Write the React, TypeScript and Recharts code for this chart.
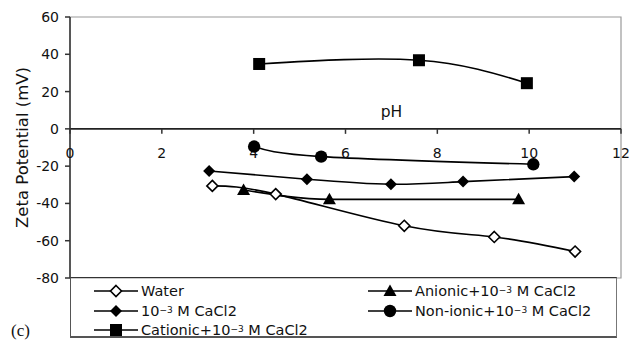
import React from "react";
import {
  LineChart,
  Line,
  XAxis,
  YAxis,
  ReferenceLine,
  ReferenceDot,
  ReferenceArea,
} from "recharts";

// ---- data ----
const waterX = [3.1, 4.48, 7.28, 9.24, 11.0];
const waterY = [-30.6, -35, -52, -58, -65.8];

const anionicX = [3.78, 5.65, 9.77];
const anionicY = [-32.8, -37.8, -37.8];

const cacl2X = [3.03, 5.16, 6.99, 8.56, 10.98];
const cacl2Y = [-22.6, -27, -29.7, -28.3, -25.6];

const nonionicX = [4.01, 5.47, 10.09];
const nonionicY = [-9.5, -14.9, -19];

const cationicX = [4.12, 7.6, 9.95];
const cationicY = [34.8, 36.8, 24.5];

const xTicks = [0, 2, 4, 6, 8, 10, 12];
const yTicks = [-80, -60, -40, -20, 0, 20, 40, 60];

const seriesNames = {
  water: "Water",
  anionic: "Anionic+10",
  cacl2: "10",
  nonionic: "Non-ionic+10",
  cationic: "Cationic+10",
};

const toRows = (xs: number[], ys: number[]) =>
  xs.map((x, i) => ({ x, y: ys[i] }));

const FONT = "'DejaVu Sans', 'Liberation Sans', Arial, sans-serif";

type MK = "openDiamond" | "diamond" | "square" | "circle" | "triangle";

const Marker = ({ cx, cy, kind }: { cx: number; cy: number; kind: MK }) => {
  if (cx == null || cy == null) return null;
  switch (kind) {
    case "openDiamond":
      return (
        <polygon
          points={`${cx},${cy - 5.5} ${cx + 5.5},${cy} ${cx},${cy + 5.5} ${cx - 5.5},${cy}`}
          fill="#fff"
          stroke="#000"
          strokeWidth={1.6}
        />
      );
    case "diamond":
      return (
        <polygon
          points={`${cx},${cy - 6} ${cx + 6},${cy} ${cx},${cy + 6} ${cx - 6},${cy}`}
          fill="#000"
        />
      );
    case "square":
      return <rect x={cx - 6} y={cy - 6} width={12} height={12} fill="#000" />;
    case "circle":
      return <circle cx={cx} cy={cy} r={6.2} fill="#000" />;
    case "triangle":
      return (
        <polygon
          points={`${cx},${cy - 6.5} ${cx + 6.5},${cy + 5} ${cx - 6.5},${cy + 5}`}
          fill="#000"
        />
      );
  }
  return null;
};

const dotFor = (kind: MK) => (props: any) =>
  (
    <Marker
      key={`${kind}-${props.index}`}
      cx={props.cx}
      cy={props.cy}
      kind={kind}
    />
  );

const LegendMarker = ({ kind }: { kind: MK }) => (
  <svg width={46} height={16} style={{ display: "block" }}>
    <line x1={1} y1={8} x2={45} y2={8} stroke="#000" strokeWidth={1.6} />
    <Marker cx={23} cy={8} kind={kind} />
  </svg>
);

const Sup = () => (
  <sup style={{ fontSize: 9, verticalAlign: "top", position: "relative", top: -1 }}>
    −3
  </sup>
);

const legendItems: { kind: MK; label: React.ReactNode; left: number; top: number }[] = [
  { kind: "openDiamond", label: <>{seriesNames.water}</>, left: 22, top: 2.7 },
  {
    kind: "diamond",
    label: (
      <>
        {seriesNames.cacl2}
        <Sup /> M CaCl2
      </>
    ),
    left: 22,
    top: 23,
  },
  {
    kind: "square",
    label: (
      <>
        {seriesNames.cationic}
        <Sup /> M CaCl2
      </>
    ),
    left: 22,
    top: 42,
  },
  {
    kind: "triangle",
    label: (
      <>
        {seriesNames.anionic}
        <Sup /> M CaCl2
      </>
    ),
    left: 296,
    top: 2.7,
  },
  {
    kind: "circle",
    label: (
      <>
        {seriesNames.nonionic}
        <Sup /> M CaCl2
      </>
    ),
    left: 296,
    top: 22.7,
  },
];

export default function App() {
  return (
    <div
      style={{
        position: "absolute",
        left: 0,
        top: 0,
        width: 637,
        height: 342,
        overflow: "hidden",
        background: "#fff",
        fontFamily: FONT,
      }}
    >
      <LineChart
        width={637}
        height={342}
        margin={{ top: 17, right: 16, bottom: 64, left: 10 }}
      >
        <XAxis
          type="number"
          dataKey="x"
          domain={[0, 12]}
          ticks={xTicks}
          hide
          allowDataOverflow
        />
        <YAxis
          type="number"
          domain={[-80, 60]}
          ticks={yTicks}
          width={60}
          interval={0}
          tickSize={5}
          tickMargin={6}
          axisLine={{ stroke: "#333", strokeWidth: 1.5 }}
          tickLine={{ stroke: "#333", strokeWidth: 1.5 }}
          tick={{ fill: "#111", fontSize: 14, fontFamily: FONT }}
          label={{
            content: (p: any) => {
              const vb = p.viewBox || { x: 10, y: 17, width: 60, height: 261 };
              const x = vb.x + 17.5;
              const y = vb.y + vb.height / 2;
              return (
                <text
                  x={x}
                  y={y}
                  transform={`rotate(-90 ${x} ${y})`}
                  textAnchor="middle"
                  fontSize={16.5}
                  fontFamily={FONT}
                  fill="#111"
                >
                  Zeta Potential (mV)
                </text>
              );
            },
          }}
        />
        <ReferenceArea
          x1={0}
          x2={12}
          y1={-80}
          y2={60}
          fill="none"
          stroke="#9a9a9a"
          strokeWidth={1.2}
          fillOpacity={0}
        />
        <ReferenceLine y={0} stroke="#222" strokeWidth={1.6} />
        {xTicks.map((t) => (
          <ReferenceDot
            key={`xt-${t}`}
            x={t}
            y={0}
            r={1}
            shape={(p: any) => (
              <g>
                <line
                  x1={p.cx}
                  y1={p.cy}
                  x2={p.cx}
                  y2={p.cy + 5}
                  stroke="#333"
                  strokeWidth={1.5}
                />
                <text
                  x={p.cx}
                  y={p.cy + 29}
                  textAnchor="middle"
                  fontSize={14}
                  fontFamily={FONT}
                  fill="#111"
                >
                  {t}
                </text>
              </g>
            )}
          />
        ))}
        <ReferenceDot
          x={7.0}
          y={0}
          r={1}
          shape={(p: any) => (
            <text
              x={p.cx}
              y={p.cy - 12}
              textAnchor="middle"
              fontSize={15.5}
              fontFamily={FONT}
              fill="#111"
            >
              pH
            </text>
          )}
        />
        <Line
          data={toRows(waterX, waterY)}
          dataKey="y"
          type="natural"
          stroke="#000"
          strokeWidth={1.6}
          dot={dotFor("openDiamond")}
          activeDot={false}
          isAnimationActive={false}
        />
        <Line
          data={toRows(anionicX, anionicY)}
          dataKey="y"
          type="monotone"
          stroke="#000"
          strokeWidth={1.6}
          dot={dotFor("triangle")}
          activeDot={false}
          isAnimationActive={false}
        />
        <Line
          data={toRows(cacl2X, cacl2Y)}
          dataKey="y"
          type="natural"
          stroke="#000"
          strokeWidth={1.6}
          dot={dotFor("diamond")}
          activeDot={false}
          isAnimationActive={false}
        />
        <Line
          data={toRows(nonionicX, nonionicY)}
          dataKey="y"
          type="natural"
          stroke="#000"
          strokeWidth={1.6}
          dot={dotFor("circle")}
          activeDot={false}
          isAnimationActive={false}
        />
        <Line
          data={toRows(cationicX, cationicY)}
          dataKey="y"
          type="natural"
          stroke="#000"
          strokeWidth={1.6}
          dot={dotFor("square")}
          activeDot={false}
          isAnimationActive={false}
        />
      </LineChart>

      {/* legend box */}
      <div
        style={{
          position: "absolute",
          left: 70,
          top: 277,
          width: 547,
          height: 61,
          borderTop: "1.5px solid #333",
          borderLeft: "1.5px solid #555",
          borderRight: "1.5px solid #777",
          borderBottom: "2px solid #555",
          boxSizing: "border-box",
        }}
      >
        {legendItems.map((it, i) => (
          <div
            key={i}
            style={{
              position: "absolute",
              left: it.left,
              top: it.top,
              height: 20,
              display: "flex",
              alignItems: "center",
              whiteSpace: "nowrap",
              fontSize: 14.5,
              color: "#111",
              lineHeight: "20px",
            }}
          >
            <LegendMarker kind={it.kind} />
            <span style={{ marginLeft: 2 }}>{it.label}</span>
          </div>
        ))}
      </div>

      <span
        style={{
          position: "absolute",
          left: 11,
          top: 322,
          fontFamily: "'Liberation Serif', 'Times New Roman', serif",
          fontSize: 17,
          lineHeight: "17px",
          color: "#111",
        }}
      >
        (c)
      </span>
    </div>
  );
}
